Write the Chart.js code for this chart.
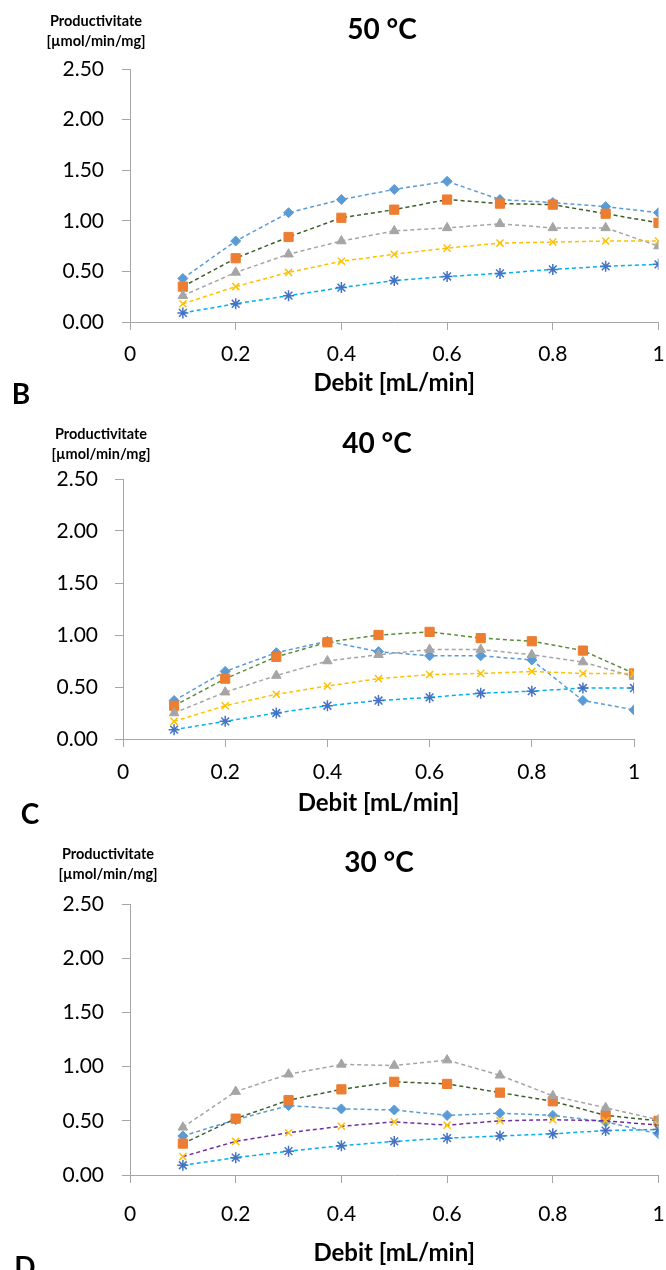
<!DOCTYPE html>
<html>
<head>
<meta charset="utf-8">
<script src="https://cdn.jsdelivr.net/npm/chart.js"></script>
<style>
  body { margin: 0; background: #fff; font-family: Lato, sans-serif; }
  #page { position: relative; width: 666px; height: 1270px; overflow: hidden; }
  canvas { position: absolute; left: 0; }
  .t { position: absolute; transform: translate(-50%, -50%); white-space: nowrap; font-weight: bold; color: #000; }
  .title { font-size: 28px; }
  .ylab { font-size: 14.5px; line-height: 20px; text-align: center; }
  .letter { font-size: 28px; }
</style>
</head>
<body>
<div id="page">
  <canvas id="c50" width="666" height="400" style="top:0px"></canvas>
  <canvas id="c40" width="666" height="400" style="top:420px"></canvas>
  <canvas id="c30" width="666" height="430" style="top:840px"></canvas>

  <div class="t title" style="left:382px; top:28px">50 °C</div>
  <div class="t ylab" style="left:96px; top:31px">Productivitate<br>[µmol/min/mg]</div>
  <div class="t letter" style="left:21px; top:393px">B</div>

  <div class="t title" style="left:377px; top:442px">40 °C</div>
  <div class="t ylab" style="left:101px; top:444px">Productivitate<br>[µmol/min/mg]</div>
  <div class="t letter" style="left:30px; top:813px">C</div>

  <div class="t title" style="left:379px; top:861px">30 °C</div>
  <div class="t ylab" style="left:108px; top:864px">Productivitate<br>[µmol/min/mg]</div>
  <div class="t letter" style="left:25px; top:1266px">D</div>
</div>
<script>
// debit values (x)
const debit = [0.1, 0.2, 0.3, 0.4, 0.5, 0.6, 0.7, 0.8, 0.9, 1.0];

// 50 °C
const c50_diamond = [0.43, 0.80, 1.08, 1.21, 1.31, 1.39, 1.21, 1.18, 1.14, 1.08];
const c50_square  = [0.35, 0.63, 0.84, 1.03, 1.11, 1.21, 1.17, 1.16, 1.07, 0.98];
const c50_tri     = [0.26, 0.49, 0.67, 0.80, 0.90, 0.93, 0.97, 0.93, 0.93, 0.75];
const c50_cross   = [0.18, 0.35, 0.49, 0.60, 0.67, 0.73, 0.78, 0.79, 0.80, 0.80];
const c50_star    = [0.09, 0.18, 0.26, 0.34, 0.41, 0.45, 0.48, 0.52, 0.55, 0.57];

// 40 °C
const c40_diamond = [0.37, 0.65, 0.83, 0.94, 0.84, 0.80, 0.80, 0.76, 0.37, 0.28];
const c40_square  = [0.32, 0.58, 0.79, 0.93, 1.00, 1.03, 0.97, 0.94, 0.85, 0.63];
const c40_tri     = [0.25, 0.45, 0.61, 0.75, 0.81, 0.86, 0.86, 0.81, 0.74, 0.60];
const c40_cross   = [0.17, 0.32, 0.43, 0.51, 0.58, 0.62, 0.63, 0.65, 0.63, 0.63];
const c40_star    = [0.09, 0.17, 0.25, 0.32, 0.37, 0.40, 0.44, 0.46, 0.49, 0.49];

// 30 °C
const c30_diamond = [0.36, 0.51, 0.64, 0.61, 0.60, 0.55, 0.57, 0.55, 0.49, 0.38];
const c30_square  = [0.29, 0.52, 0.69, 0.79, 0.86, 0.84, 0.76, 0.68, 0.55, 0.50];
const c30_tri     = [0.44, 0.77, 0.93, 1.02, 1.01, 1.06, 0.92, 0.73, 0.62, 0.51];
const c30_cross   = [0.17, 0.31, 0.39, 0.45, 0.49, 0.46, 0.50, 0.51, 0.50, 0.46];
const c30_star    = [0.09, 0.16, 0.22, 0.27, 0.31, 0.34, 0.36, 0.38, 0.41, 0.42];

const yTicks = [0, 0.5, 1, 1.5, 2, 2.5];
const xTicks = [0, 0.2, 0.4, 0.6, 0.8, 1];

Chart.defaults.font.family = 'Lato, sans-serif';
Chart.defaults.animation = false;

const axisGray = '#a6a6a6';

function pts(vals) {
  return debit.map((d, i) => ({ x: d, y: vals[i] }));
}

function ds(vals, style, fill, line, radius, order) {
  const stroke = (style === 'crossRot' || style === 'star');
  return {
    data: pts(vals),
    borderColor: line,
    borderWidth: 1.5,
    borderDash: [4, 3],
    pointStyle: style,
    pointRadius: radius,
    pointBackgroundColor: fill,
    pointBorderColor: fill,
    pointBorderWidth: stroke ? 1.5 : 1,
    tension: 0,
    order: order
  };
}

function makeChart(id, canvasH, area, series, greenLine, crossLine, yPad, xPad) {
  const grid = { drawOnChartArea: false, drawTicks: true, tickLength: 8, color: axisGray };
  new Chart(document.getElementById(id), {
    type: 'line',
    data: {
      datasets: [
        ds(series[0], 'rectRot', '#5B9BD5', '#5B9BD5', 5, 5),
        ds(series[1], 'rect', '#ED7D31', greenLine, 6.5, 4),
        ds(series[2], 'triangle', '#A5A5A5', '#A5A5A5', 5.5, 3),
        ds(series[3], 'crossRot', '#FFC000', crossLine, 5, 2),
        ds(series[4], 'star', '#4472C4', '#00B0F0', 5.5, 1)
      ]
    },
    options: {
      responsive: false,
      layout: { padding: { left: 0, right: 666 - area.right, top: area.top, bottom: 0 } },
      plugins: { legend: { display: false }, tooltip: { enabled: false } },
      scales: {
        x: {
          type: 'linear', min: 0, max: 1,
          afterBuildTicks: s => { s.ticks = xTicks.map(v => ({ value: v })); },
          ticks: { autoSkip: false, maxRotation: 0, padding: xPad, color: '#000', font: { size: 21 },
                   callback: v => String(+v.toFixed(1)) },
          grid: grid,
          border: { color: axisGray, width: 1 },
          title: { display: true, text: 'Debit [mL/min]', color: '#000',
                   font: { size: 24, weight: 'bold' }, padding: { top: 0, bottom: 2.6 } },
          afterFit: s => {
            s.height = canvasH - area.bottom;
            s.paddingLeft = 0;
            s.paddingRight = 0;
          }
        },
        y: {
          min: 0, max: 2.5,
          afterBuildTicks: s => { s.ticks = yTicks.map(v => ({ value: v })); },
          ticks: { padding: yPad, color: '#000', font: { size: 21 }, callback: v => v.toFixed(2) },
          grid: grid,
          border: { color: axisGray, width: 1 },
          afterFit: s => { s.width = area.left; }
        }
      }
    }
  });
}

makeChart('c50', 400, { left: 130, right: 660, top: 69, bottom: 322 },
  [c50_diamond, c50_square, c50_tri, c50_cross, c50_star], '#3E5F2A', '#FFC000', 18, 12);
makeChart('c40', 400, { left: 123, right: 634, top: 59, bottom: 319 },
  [c40_diamond, c40_square, c40_tri, c40_cross, c40_star], '#5B8C3A', '#FFC000', 17, 13);
makeChart('c30', 430, { left: 130, right: 660, top: 64, bottom: 335 },
  [c30_diamond, c30_square, c30_tri, c30_cross, c30_star], '#3E5F2A', '#7030A0', 18, 19);
</script>
</body>
</html>
